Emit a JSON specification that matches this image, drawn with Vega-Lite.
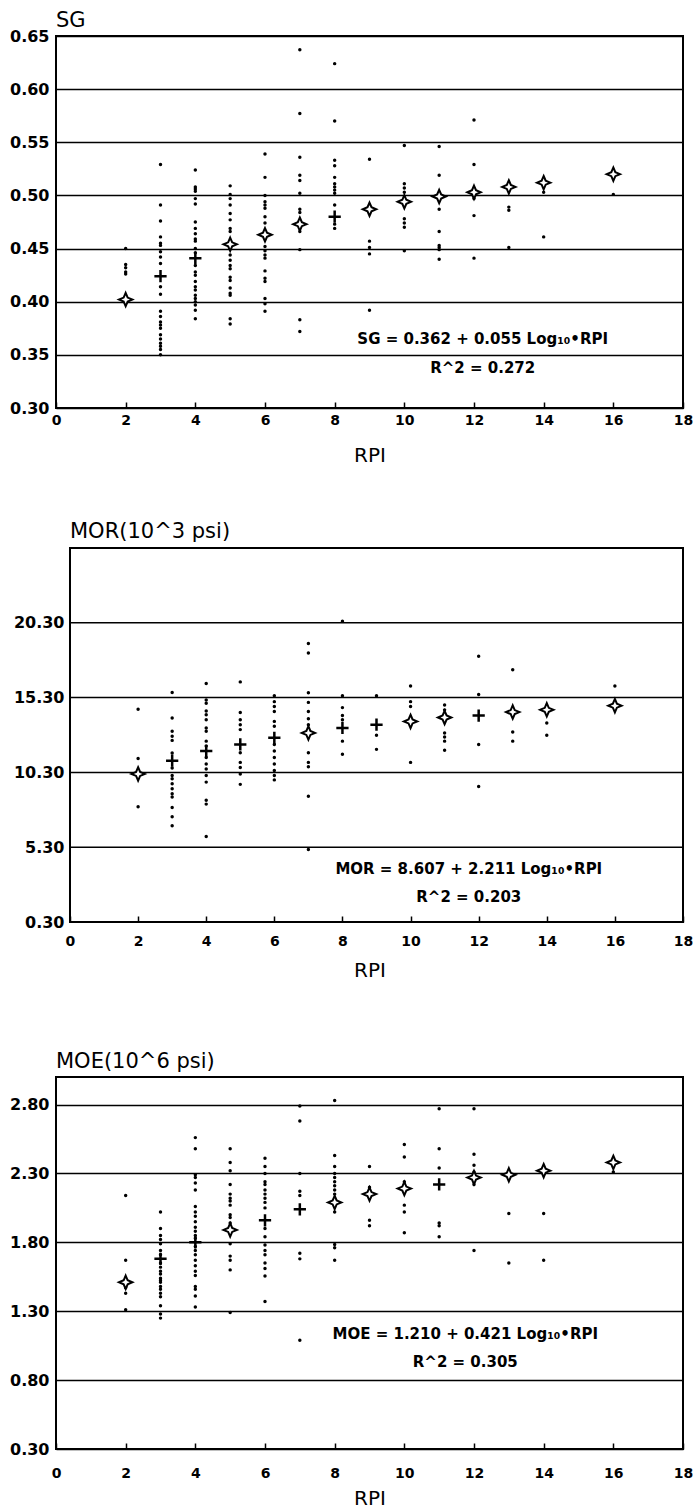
{
  "$schema": "https://vega.github.io/schema/vega-lite/v6.json",
  "background": "white",
  "padding": {"left": 8, "top": 9, "right": 2, "bottom": 0},
  "columns": 1,
  "align": "none",
  "bounds": "full",
  "spacing": 55,
  "resolve": {"scale": {"x": "independent", "y": "independent"}},
  "config": {
    "view": {"stroke": "black", "strokeWidth": 2},
    "font": "DejaVu Sans",
    "axisY": {"grid": true, "gridColor": "black", "gridWidth": 1.5, "gridOpacity": 1, "ticks": false, "domain": false, "labelFont": "DejaVu Sans", "labelFontWeight": "bold", "labelFontSize": 16, "labelColor": "black", "title": null, "format": ".2f", "labelPadding": 7},
    "axisX": {"grid": false, "domain": false, "ticks": true, "tickColor": "black", "tickWidth": 1.5, "tickSize": -6, "labelFont": "DejaVu Sans", "labelFontWeight": "bold", "labelFontSize": 14, "labelColor": "black", "titleFont": "DejaVu Sans", "titleFontWeight": "normal", "titleFontSize": 20, "titleColor": "black", "titlePadding": 18, "format": "d", "labelFlush": false},
    "title": {"anchor": "start", "frame": "group", "offset": 5, "baseline": "alphabetic", "fontSize": 21, "font": "DejaVu Sans", "fontWeight": "normal", "color": "black"}
  },
  "datasets": {
    "sg": [
      {"rpi": 2, "v": 0.450, "kind": "obs"}, {"rpi": 2, "v": 0.435, "kind": "obs"}, {"rpi": 2, "v": 0.432, "kind": "obs"}, {"rpi": 2, "v": 0.428, "kind": "obs"}, {"rpi": 2, "v": 0.426, "kind": "obs"}, {"rpi": 2, "v": 0.399, "kind": "obs"},
      {"rpi": 3, "v": 0.529, "kind": "obs"}, {"rpi": 3, "v": 0.491, "kind": "obs"}, {"rpi": 3, "v": 0.476, "kind": "obs"}, {"rpi": 3, "v": 0.461, "kind": "obs"}, {"rpi": 3, "v": 0.455, "kind": "obs"}, {"rpi": 3, "v": 0.453, "kind": "obs"}, {"rpi": 3, "v": 0.447, "kind": "obs"}, {"rpi": 3, "v": 0.442, "kind": "obs"}, {"rpi": 3, "v": 0.436, "kind": "obs"}, {"rpi": 3, "v": 0.414, "kind": "obs"}, {"rpi": 3, "v": 0.407, "kind": "obs"}, {"rpi": 3, "v": 0.391, "kind": "obs"}, {"rpi": 3, "v": 0.386, "kind": "obs"}, {"rpi": 3, "v": 0.381, "kind": "obs"}, {"rpi": 3, "v": 0.378, "kind": "obs"}, {"rpi": 3, "v": 0.375, "kind": "obs"}, {"rpi": 3, "v": 0.369, "kind": "obs"}, {"rpi": 3, "v": 0.365, "kind": "obs"}, {"rpi": 3, "v": 0.361, "kind": "obs"}, {"rpi": 3, "v": 0.358, "kind": "obs"}, {"rpi": 3, "v": 0.355, "kind": "obs"}, {"rpi": 3, "v": 0.350, "kind": "obs"},
      {"rpi": 4, "v": 0.524, "kind": "obs"}, {"rpi": 4, "v": 0.508, "kind": "obs"}, {"rpi": 4, "v": 0.506, "kind": "obs"}, {"rpi": 4, "v": 0.504, "kind": "obs"}, {"rpi": 4, "v": 0.497, "kind": "obs"}, {"rpi": 4, "v": 0.492, "kind": "obs"}, {"rpi": 4, "v": 0.475, "kind": "obs"}, {"rpi": 4, "v": 0.469, "kind": "obs"}, {"rpi": 4, "v": 0.464, "kind": "obs"}, {"rpi": 4, "v": 0.459, "kind": "obs"}, {"rpi": 4, "v": 0.457, "kind": "obs"}, {"rpi": 4, "v": 0.450, "kind": "obs"}, {"rpi": 4, "v": 0.446, "kind": "obs"}, {"rpi": 4, "v": 0.434, "kind": "obs"}, {"rpi": 4, "v": 0.428, "kind": "obs"}, {"rpi": 4, "v": 0.425, "kind": "obs"}, {"rpi": 4, "v": 0.419, "kind": "obs"}, {"rpi": 4, "v": 0.414, "kind": "obs"}, {"rpi": 4, "v": 0.411, "kind": "obs"}, {"rpi": 4, "v": 0.406, "kind": "obs"}, {"rpi": 4, "v": 0.403, "kind": "obs"}, {"rpi": 4, "v": 0.400, "kind": "obs"}, {"rpi": 4, "v": 0.397, "kind": "obs"}, {"rpi": 4, "v": 0.392, "kind": "obs"}, {"rpi": 4, "v": 0.384, "kind": "obs"},
      {"rpi": 5, "v": 0.509, "kind": "obs"}, {"rpi": 5, "v": 0.501, "kind": "obs"}, {"rpi": 5, "v": 0.497, "kind": "obs"}, {"rpi": 5, "v": 0.491, "kind": "obs"}, {"rpi": 5, "v": 0.483, "kind": "obs"}, {"rpi": 5, "v": 0.477, "kind": "obs"}, {"rpi": 5, "v": 0.469, "kind": "obs"}, {"rpi": 5, "v": 0.466, "kind": "obs"}, {"rpi": 5, "v": 0.444, "kind": "obs"}, {"rpi": 5, "v": 0.439, "kind": "obs"}, {"rpi": 5, "v": 0.434, "kind": "obs"}, {"rpi": 5, "v": 0.431, "kind": "obs"}, {"rpi": 5, "v": 0.423, "kind": "obs"}, {"rpi": 5, "v": 0.420, "kind": "obs"}, {"rpi": 5, "v": 0.413, "kind": "obs"}, {"rpi": 5, "v": 0.408, "kind": "obs"}, {"rpi": 5, "v": 0.406, "kind": "obs"}, {"rpi": 5, "v": 0.384, "kind": "obs"}, {"rpi": 5, "v": 0.379, "kind": "obs"},
      {"rpi": 6, "v": 0.539, "kind": "obs"}, {"rpi": 6, "v": 0.517, "kind": "obs"}, {"rpi": 6, "v": 0.500, "kind": "obs"}, {"rpi": 6, "v": 0.494, "kind": "obs"}, {"rpi": 6, "v": 0.491, "kind": "obs"}, {"rpi": 6, "v": 0.488, "kind": "obs"}, {"rpi": 6, "v": 0.480, "kind": "obs"}, {"rpi": 6, "v": 0.474, "kind": "obs"}, {"rpi": 6, "v": 0.452, "kind": "obs"}, {"rpi": 6, "v": 0.448, "kind": "obs"}, {"rpi": 6, "v": 0.444, "kind": "obs"}, {"rpi": 6, "v": 0.441, "kind": "obs"}, {"rpi": 6, "v": 0.429, "kind": "obs"}, {"rpi": 6, "v": 0.422, "kind": "obs"}, {"rpi": 6, "v": 0.419, "kind": "obs"}, {"rpi": 6, "v": 0.403, "kind": "obs"}, {"rpi": 6, "v": 0.398, "kind": "obs"}, {"rpi": 6, "v": 0.391, "kind": "obs"},
      {"rpi": 7, "v": 0.637, "kind": "obs"}, {"rpi": 7, "v": 0.577, "kind": "obs"}, {"rpi": 7, "v": 0.536, "kind": "obs"}, {"rpi": 7, "v": 0.519, "kind": "obs"}, {"rpi": 7, "v": 0.514, "kind": "obs"}, {"rpi": 7, "v": 0.502, "kind": "obs"}, {"rpi": 7, "v": 0.487, "kind": "obs"}, {"rpi": 7, "v": 0.484, "kind": "obs"}, {"rpi": 7, "v": 0.466, "kind": "obs"}, {"rpi": 7, "v": 0.449, "kind": "obs"}, {"rpi": 7, "v": 0.383, "kind": "obs"}, {"rpi": 7, "v": 0.372, "kind": "obs"},
      {"rpi": 8, "v": 0.624, "kind": "obs"}, {"rpi": 8, "v": 0.570, "kind": "obs"}, {"rpi": 8, "v": 0.533, "kind": "obs"}, {"rpi": 8, "v": 0.528, "kind": "obs"}, {"rpi": 8, "v": 0.517, "kind": "obs"}, {"rpi": 8, "v": 0.511, "kind": "obs"}, {"rpi": 8, "v": 0.508, "kind": "obs"}, {"rpi": 8, "v": 0.505, "kind": "obs"}, {"rpi": 8, "v": 0.502, "kind": "obs"}, {"rpi": 8, "v": 0.491, "kind": "obs"}, {"rpi": 8, "v": 0.473, "kind": "obs"}, {"rpi": 8, "v": 0.469, "kind": "obs"},
      {"rpi": 9, "v": 0.534, "kind": "obs"}, {"rpi": 9, "v": 0.457, "kind": "obs"}, {"rpi": 9, "v": 0.451, "kind": "obs"}, {"rpi": 9, "v": 0.445, "kind": "obs"}, {"rpi": 9, "v": 0.392, "kind": "obs"},
      {"rpi": 10, "v": 0.547, "kind": "obs"}, {"rpi": 10, "v": 0.511, "kind": "obs"}, {"rpi": 10, "v": 0.507, "kind": "obs"}, {"rpi": 10, "v": 0.503, "kind": "obs"}, {"rpi": 10, "v": 0.478, "kind": "obs"}, {"rpi": 10, "v": 0.474, "kind": "obs"}, {"rpi": 10, "v": 0.470, "kind": "obs"}, {"rpi": 10, "v": 0.448, "kind": "obs"},
      {"rpi": 11, "v": 0.546, "kind": "obs"}, {"rpi": 11, "v": 0.519, "kind": "obs"}, {"rpi": 11, "v": 0.487, "kind": "obs"}, {"rpi": 11, "v": 0.466, "kind": "obs"}, {"rpi": 11, "v": 0.453, "kind": "obs"}, {"rpi": 11, "v": 0.451, "kind": "obs"}, {"rpi": 11, "v": 0.449, "kind": "obs"}, {"rpi": 11, "v": 0.440, "kind": "obs"},
      {"rpi": 12, "v": 0.571, "kind": "obs"}, {"rpi": 12, "v": 0.529, "kind": "obs"}, {"rpi": 12, "v": 0.497, "kind": "obs"}, {"rpi": 12, "v": 0.481, "kind": "obs"}, {"rpi": 12, "v": 0.441, "kind": "obs"},
      {"rpi": 13, "v": 0.489, "kind": "obs"}, {"rpi": 13, "v": 0.486, "kind": "obs"}, {"rpi": 13, "v": 0.451, "kind": "obs"},
      {"rpi": 14, "v": 0.503, "kind": "obs"}, {"rpi": 14, "v": 0.461, "kind": "obs"},
      {"rpi": 16, "v": 0.501, "kind": "obs"},
      {"rpi": 2, "v": 0.402, "kind": "mean", "sym": "star"}, {"rpi": 3, "v": 0.424, "kind": "mean", "sym": "cross"}, {"rpi": 4, "v": 0.441, "kind": "mean", "sym": "cross"}, {"rpi": 5, "v": 0.454, "kind": "mean", "sym": "star"}, {"rpi": 6, "v": 0.463, "kind": "mean", "sym": "star"}, {"rpi": 7, "v": 0.473, "kind": "mean", "sym": "star"}, {"rpi": 8, "v": 0.480, "kind": "mean", "sym": "cross"}, {"rpi": 9, "v": 0.487, "kind": "mean", "sym": "star"}, {"rpi": 10, "v": 0.494, "kind": "mean", "sym": "star"}, {"rpi": 11, "v": 0.499, "kind": "mean", "sym": "star"}, {"rpi": 12, "v": 0.503, "kind": "mean", "sym": "star"}, {"rpi": 13, "v": 0.508, "kind": "mean", "sym": "star"}, {"rpi": 14, "v": 0.512, "kind": "mean", "sym": "star"}, {"rpi": 16, "v": 0.520, "kind": "mean", "sym": "star"}
    ],
    "mor": [
      {"rpi": 2, "v": 14.52, "kind": "obs"}, {"rpi": 2, "v": 11.23, "kind": "obs"}, {"rpi": 2, "v": 8.0, "kind": "obs"},
      {"rpi": 3, "v": 15.64, "kind": "obs"}, {"rpi": 3, "v": 13.93, "kind": "obs"}, {"rpi": 3, "v": 13.05, "kind": "obs"}, {"rpi": 3, "v": 12.72, "kind": "obs"}, {"rpi": 3, "v": 12.44, "kind": "obs"}, {"rpi": 3, "v": 11.6, "kind": "obs"}, {"rpi": 3, "v": 10.6, "kind": "obs"}, {"rpi": 3, "v": 10.09, "kind": "obs"}, {"rpi": 3, "v": 9.87, "kind": "obs"}, {"rpi": 3, "v": 9.54, "kind": "obs"}, {"rpi": 3, "v": 9.21, "kind": "obs"}, {"rpi": 3, "v": 8.88, "kind": "obs"}, {"rpi": 3, "v": 8.66, "kind": "obs"}, {"rpi": 3, "v": 7.96, "kind": "obs"}, {"rpi": 3, "v": 7.34, "kind": "obs"}, {"rpi": 3, "v": 6.73, "kind": "obs"},
      {"rpi": 4, "v": 16.24, "kind": "obs"}, {"rpi": 4, "v": 15.14, "kind": "obs"}, {"rpi": 4, "v": 14.92, "kind": "obs"}, {"rpi": 4, "v": 14.41, "kind": "obs"}, {"rpi": 4, "v": 14.15, "kind": "obs"}, {"rpi": 4, "v": 13.82, "kind": "obs"}, {"rpi": 4, "v": 13.27, "kind": "obs"}, {"rpi": 4, "v": 13.05, "kind": "obs"}, {"rpi": 4, "v": 12.39, "kind": "obs"}, {"rpi": 4, "v": 12.06, "kind": "obs"}, {"rpi": 4, "v": 11.30, "kind": "obs"}, {"rpi": 4, "v": 10.86, "kind": "obs"}, {"rpi": 4, "v": 10.53, "kind": "obs"}, {"rpi": 4, "v": 10.09, "kind": "obs"}, {"rpi": 4, "v": 9.65, "kind": "obs"}, {"rpi": 4, "v": 8.44, "kind": "obs"}, {"rpi": 4, "v": 8.18, "kind": "obs"}, {"rpi": 4, "v": 6.02, "kind": "obs"},
      {"rpi": 5, "v": 16.35, "kind": "obs"}, {"rpi": 5, "v": 14.30, "kind": "obs"}, {"rpi": 5, "v": 13.82, "kind": "obs"}, {"rpi": 5, "v": 13.49, "kind": "obs"}, {"rpi": 5, "v": 13.16, "kind": "obs"}, {"rpi": 5, "v": 11.62, "kind": "obs"}, {"rpi": 5, "v": 10.97, "kind": "obs"}, {"rpi": 5, "v": 10.63, "kind": "obs"}, {"rpi": 5, "v": 10.20, "kind": "obs"}, {"rpi": 5, "v": 9.50, "kind": "obs"},
      {"rpi": 6, "v": 15.42, "kind": "obs"}, {"rpi": 6, "v": 15.03, "kind": "obs"}, {"rpi": 6, "v": 14.70, "kind": "obs"}, {"rpi": 6, "v": 14.37, "kind": "obs"}, {"rpi": 6, "v": 13.71, "kind": "obs"}, {"rpi": 6, "v": 13.38, "kind": "obs"}, {"rpi": 6, "v": 12.17, "kind": "obs"}, {"rpi": 6, "v": 11.73, "kind": "obs"}, {"rpi": 6, "v": 11.30, "kind": "obs"}, {"rpi": 6, "v": 10.86, "kind": "obs"}, {"rpi": 6, "v": 10.42, "kind": "obs"}, {"rpi": 6, "v": 10.09, "kind": "obs"}, {"rpi": 6, "v": 9.80, "kind": "obs"},
      {"rpi": 7, "v": 18.92, "kind": "obs"}, {"rpi": 7, "v": 18.28, "kind": "obs"}, {"rpi": 7, "v": 15.62, "kind": "obs"}, {"rpi": 7, "v": 14.98, "kind": "obs"}, {"rpi": 7, "v": 14.37, "kind": "obs"}, {"rpi": 7, "v": 13.89, "kind": "obs"}, {"rpi": 7, "v": 13.49, "kind": "obs"}, {"rpi": 7, "v": 11.62, "kind": "obs"}, {"rpi": 7, "v": 10.97, "kind": "obs"}, {"rpi": 7, "v": 10.68, "kind": "obs"}, {"rpi": 7, "v": 8.70, "kind": "obs"}, {"rpi": 7, "v": 5.14, "kind": "obs"},
      {"rpi": 8, "v": 20.40, "kind": "obs"}, {"rpi": 8, "v": 15.42, "kind": "obs"}, {"rpi": 8, "v": 14.63, "kind": "obs"}, {"rpi": 8, "v": 14.10, "kind": "obs"}, {"rpi": 8, "v": 13.82, "kind": "obs"}, {"rpi": 8, "v": 12.39, "kind": "obs"}, {"rpi": 8, "v": 11.51, "kind": "obs"},
      {"rpi": 9, "v": 15.42, "kind": "obs"}, {"rpi": 9, "v": 12.79, "kind": "obs"}, {"rpi": 9, "v": 11.84, "kind": "obs"},
      {"rpi": 10, "v": 16.08, "kind": "obs"}, {"rpi": 10, "v": 15.03, "kind": "obs"}, {"rpi": 10, "v": 14.70, "kind": "obs"}, {"rpi": 10, "v": 10.97, "kind": "obs"},
      {"rpi": 11, "v": 14.81, "kind": "obs"}, {"rpi": 11, "v": 14.48, "kind": "obs"}, {"rpi": 11, "v": 12.94, "kind": "obs"}, {"rpi": 11, "v": 12.66, "kind": "obs"}, {"rpi": 11, "v": 12.39, "kind": "obs"}, {"rpi": 11, "v": 11.78, "kind": "obs"},
      {"rpi": 12, "v": 18.06, "kind": "obs"}, {"rpi": 12, "v": 15.51, "kind": "obs"}, {"rpi": 12, "v": 12.17, "kind": "obs"}, {"rpi": 12, "v": 9.36, "kind": "obs"},
      {"rpi": 13, "v": 17.16, "kind": "obs"}, {"rpi": 13, "v": 13.00, "kind": "obs"}, {"rpi": 13, "v": 12.39, "kind": "obs"},
      {"rpi": 14, "v": 13.60, "kind": "obs"}, {"rpi": 14, "v": 12.79, "kind": "obs"},
      {"rpi": 16, "v": 16.08, "kind": "obs"},
      {"rpi": 2, "v": 10.20, "kind": "mean", "sym": "star"}, {"rpi": 3, "v": 11.08, "kind": "mean", "sym": "cross"}, {"rpi": 4, "v": 11.73, "kind": "mean", "sym": "cross"}, {"rpi": 5, "v": 12.17, "kind": "mean", "sym": "cross"}, {"rpi": 6, "v": 12.61, "kind": "mean", "sym": "cross"}, {"rpi": 7, "v": 12.94, "kind": "mean", "sym": "star"}, {"rpi": 8, "v": 13.27, "kind": "mean", "sym": "cross"}, {"rpi": 9, "v": 13.49, "kind": "mean", "sym": "cross"}, {"rpi": 10, "v": 13.71, "kind": "mean", "sym": "star"}, {"rpi": 11, "v": 13.97, "kind": "mean", "sym": "star"}, {"rpi": 12, "v": 14.10, "kind": "mean", "sym": "cross"}, {"rpi": 13, "v": 14.33, "kind": "mean", "sym": "star"}, {"rpi": 14, "v": 14.48, "kind": "mean", "sym": "star"}, {"rpi": 16, "v": 14.76, "kind": "mean", "sym": "star"}
    ],
    "moe": [
      {"rpi": 2, "v": 2.14, "kind": "obs"}, {"rpi": 2, "v": 1.67, "kind": "obs"}, {"rpi": 2, "v": 1.47, "kind": "obs"}, {"rpi": 2, "v": 1.43, "kind": "obs"}, {"rpi": 2, "v": 1.31, "kind": "obs"},
      {"rpi": 3, "v": 2.02, "kind": "obs"}, {"rpi": 3, "v": 1.90, "kind": "obs"}, {"rpi": 3, "v": 1.85, "kind": "obs"}, {"rpi": 3, "v": 1.82, "kind": "obs"}, {"rpi": 3, "v": 1.79, "kind": "obs"}, {"rpi": 3, "v": 1.74, "kind": "obs"}, {"rpi": 3, "v": 1.71, "kind": "obs"}, {"rpi": 3, "v": 1.65, "kind": "obs"}, {"rpi": 3, "v": 1.62, "kind": "obs"}, {"rpi": 3, "v": 1.59, "kind": "obs"}, {"rpi": 3, "v": 1.57, "kind": "obs"}, {"rpi": 3, "v": 1.54, "kind": "obs"}, {"rpi": 3, "v": 1.525, "kind": "obs"}, {"rpi": 3, "v": 1.51, "kind": "obs"}, {"rpi": 3, "v": 1.48, "kind": "obs"}, {"rpi": 3, "v": 1.46, "kind": "obs"}, {"rpi": 3, "v": 1.43, "kind": "obs"}, {"rpi": 3, "v": 1.405, "kind": "obs"}, {"rpi": 3, "v": 1.34, "kind": "obs"}, {"rpi": 3, "v": 1.28, "kind": "obs"}, {"rpi": 3, "v": 1.25, "kind": "obs"},
      {"rpi": 4, "v": 2.56, "kind": "obs"}, {"rpi": 4, "v": 2.48, "kind": "obs"}, {"rpi": 4, "v": 2.29, "kind": "obs"}, {"rpi": 4, "v": 2.27, "kind": "obs"}, {"rpi": 4, "v": 2.23, "kind": "obs"}, {"rpi": 4, "v": 2.18, "kind": "obs"}, {"rpi": 4, "v": 2.06, "kind": "obs"}, {"rpi": 4, "v": 2.02, "kind": "obs"}, {"rpi": 4, "v": 1.99, "kind": "obs"}, {"rpi": 4, "v": 1.95, "kind": "obs"}, {"rpi": 4, "v": 1.91, "kind": "obs"}, {"rpi": 4, "v": 1.88, "kind": "obs"}, {"rpi": 4, "v": 1.85, "kind": "obs"}, {"rpi": 4, "v": 1.83, "kind": "obs"}, {"rpi": 4, "v": 1.77, "kind": "obs"}, {"rpi": 4, "v": 1.74, "kind": "obs"}, {"rpi": 4, "v": 1.71, "kind": "obs"}, {"rpi": 4, "v": 1.67, "kind": "obs"}, {"rpi": 4, "v": 1.63, "kind": "obs"}, {"rpi": 4, "v": 1.59, "kind": "obs"}, {"rpi": 4, "v": 1.56, "kind": "obs"}, {"rpi": 4, "v": 1.48, "kind": "obs"}, {"rpi": 4, "v": 1.46, "kind": "obs"}, {"rpi": 4, "v": 1.41, "kind": "obs"}, {"rpi": 4, "v": 1.33, "kind": "obs"},
      {"rpi": 5, "v": 2.48, "kind": "obs"}, {"rpi": 5, "v": 2.38, "kind": "obs"}, {"rpi": 5, "v": 2.32, "kind": "obs"}, {"rpi": 5, "v": 2.22, "kind": "obs"}, {"rpi": 5, "v": 2.15, "kind": "obs"}, {"rpi": 5, "v": 2.12, "kind": "obs"}, {"rpi": 5, "v": 2.10, "kind": "obs"}, {"rpi": 5, "v": 2.07, "kind": "obs"}, {"rpi": 5, "v": 2.00, "kind": "obs"}, {"rpi": 5, "v": 1.98, "kind": "obs"}, {"rpi": 5, "v": 1.94, "kind": "obs"}, {"rpi": 5, "v": 1.79, "kind": "obs"}, {"rpi": 5, "v": 1.70, "kind": "obs"}, {"rpi": 5, "v": 1.67, "kind": "obs"}, {"rpi": 5, "v": 1.60, "kind": "obs"}, {"rpi": 5, "v": 1.29, "kind": "obs"},
      {"rpi": 6, "v": 2.41, "kind": "obs"}, {"rpi": 6, "v": 2.35, "kind": "obs"}, {"rpi": 6, "v": 2.30, "kind": "obs"}, {"rpi": 6, "v": 2.24, "kind": "obs"}, {"rpi": 6, "v": 2.22, "kind": "obs"}, {"rpi": 6, "v": 2.18, "kind": "obs"}, {"rpi": 6, "v": 2.15, "kind": "obs"}, {"rpi": 6, "v": 2.12, "kind": "obs"}, {"rpi": 6, "v": 2.09, "kind": "obs"}, {"rpi": 6, "v": 2.05, "kind": "obs"}, {"rpi": 6, "v": 1.90, "kind": "obs"}, {"rpi": 6, "v": 1.84, "kind": "obs"}, {"rpi": 6, "v": 1.78, "kind": "obs"}, {"rpi": 6, "v": 1.74, "kind": "obs"}, {"rpi": 6, "v": 1.71, "kind": "obs"}, {"rpi": 6, "v": 1.65, "kind": "obs"}, {"rpi": 6, "v": 1.61, "kind": "obs"}, {"rpi": 6, "v": 1.555, "kind": "obs"}, {"rpi": 6, "v": 1.37, "kind": "obs"},
      {"rpi": 7, "v": 2.79, "kind": "obs"}, {"rpi": 7, "v": 2.68, "kind": "obs"}, {"rpi": 7, "v": 2.30, "kind": "obs"}, {"rpi": 7, "v": 2.17, "kind": "obs"}, {"rpi": 7, "v": 2.14, "kind": "obs"}, {"rpi": 7, "v": 1.72, "kind": "obs"}, {"rpi": 7, "v": 1.68, "kind": "obs"}, {"rpi": 7, "v": 1.09, "kind": "obs"},
      {"rpi": 8, "v": 2.83, "kind": "obs"}, {"rpi": 8, "v": 2.43, "kind": "obs"}, {"rpi": 8, "v": 2.35, "kind": "obs"}, {"rpi": 8, "v": 2.30, "kind": "obs"}, {"rpi": 8, "v": 2.27, "kind": "obs"}, {"rpi": 8, "v": 2.24, "kind": "obs"}, {"rpi": 8, "v": 2.21, "kind": "obs"}, {"rpi": 8, "v": 2.18, "kind": "obs"}, {"rpi": 8, "v": 2.15, "kind": "obs"}, {"rpi": 8, "v": 2.02, "kind": "obs"}, {"rpi": 8, "v": 1.785, "kind": "obs"}, {"rpi": 8, "v": 1.76, "kind": "obs"}, {"rpi": 8, "v": 1.67, "kind": "obs"},
      {"rpi": 9, "v": 2.35, "kind": "obs"}, {"rpi": 9, "v": 2.20, "kind": "obs"}, {"rpi": 9, "v": 1.96, "kind": "obs"}, {"rpi": 9, "v": 1.92, "kind": "obs"},
      {"rpi": 10, "v": 2.51, "kind": "obs"}, {"rpi": 10, "v": 2.42, "kind": "obs"}, {"rpi": 10, "v": 2.24, "kind": "obs"}, {"rpi": 10, "v": 2.07, "kind": "obs"}, {"rpi": 10, "v": 2.02, "kind": "obs"}, {"rpi": 10, "v": 1.87, "kind": "obs"},
      {"rpi": 11, "v": 2.77, "kind": "obs"}, {"rpi": 11, "v": 2.48, "kind": "obs"}, {"rpi": 11, "v": 2.34, "kind": "obs"}, {"rpi": 11, "v": 1.94, "kind": "obs"}, {"rpi": 11, "v": 1.92, "kind": "obs"}, {"rpi": 11, "v": 1.84, "kind": "obs"},
      {"rpi": 12, "v": 2.77, "kind": "obs"}, {"rpi": 12, "v": 2.44, "kind": "obs"}, {"rpi": 12, "v": 2.36, "kind": "obs"}, {"rpi": 12, "v": 2.31, "kind": "obs"}, {"rpi": 12, "v": 2.22, "kind": "obs"}, {"rpi": 12, "v": 1.74, "kind": "obs"},
      {"rpi": 13, "v": 2.01, "kind": "obs"}, {"rpi": 13, "v": 1.65, "kind": "obs"},
      {"rpi": 14, "v": 2.01, "kind": "obs"}, {"rpi": 14, "v": 1.67, "kind": "obs"},
      {"rpi": 16, "v": 2.31, "kind": "obs"},
      {"rpi": 2, "v": 1.51, "kind": "mean", "sym": "star"}, {"rpi": 3, "v": 1.68, "kind": "mean", "sym": "cross"}, {"rpi": 4, "v": 1.80, "kind": "mean", "sym": "cross"}, {"rpi": 5, "v": 1.89, "kind": "mean", "sym": "star"}, {"rpi": 6, "v": 1.96, "kind": "mean", "sym": "cross"}, {"rpi": 7, "v": 2.04, "kind": "mean", "sym": "cross"}, {"rpi": 8, "v": 2.09, "kind": "mean", "sym": "star"}, {"rpi": 9, "v": 2.15, "kind": "mean", "sym": "star"}, {"rpi": 10, "v": 2.19, "kind": "mean", "sym": "star"}, {"rpi": 11, "v": 2.22, "kind": "mean", "sym": "cross"}, {"rpi": 12, "v": 2.27, "kind": "mean", "sym": "star"}, {"rpi": 13, "v": 2.29, "kind": "mean", "sym": "star"}, {"rpi": 14, "v": 2.32, "kind": "mean", "sym": "star"}, {"rpi": 16, "v": 2.38, "kind": "mean", "sym": "star"}
    ]
  },
  "concat": [
    {
      "width": 627, "height": 372,
      "title": {"text": "SG", "offset": -3},
      "layer": [
        {"data": {"name": "sg"}, "transform": [{"filter": "datum.kind === 'obs'"}], "mark": {"type": "point", "shape": "circle", "filled": true, "color": "black", "size": 12, "opacity": 1},
         "encoding": {
           "x": {"field": "rpi", "type": "quantitative", "scale": {"domain": [0, 18], "nice": false, "zero": false}, "axis": {"title": "RPI", "values": [0, 2, 4, 6, 8, 10, 12, 14, 16, 18], "labelPadding": 11}},
           "y": {"field": "v", "type": "quantitative", "scale": {"domain": [0.30, 0.65], "nice": false, "zero": false}, "axis": {"title": null, "values": [0.30, 0.35, 0.40, 0.45, 0.50, 0.55, 0.60, 0.65], "labelPadding": 7}}
         }},
        {"data": {"name": "sg"}, "transform": [{"filter": "datum.sym === 'star'"}], "mark": {"type": "point", "shape": "M0,-1L0.3,-0.3L1,0L0.3,0.3L0,1L-0.3,0.3L-1,0L-0.3,-0.3Z", "filled": true, "fill": "white", "stroke": "black", "strokeWidth": 2, "size": 180, "opacity": 1, "fillOpacity": 1, "strokeOpacity": 1},
         "encoding": {"x": {"field": "rpi", "type": "quantitative"}, "y": {"field": "v", "type": "quantitative"}}},
        {"data": {"name": "sg"}, "transform": [{"filter": "datum.sym === 'cross'"}], "mark": {"type": "point", "shape": "M-1,0L1,0M0,-1L0,1", "filled": false, "stroke": "black", "strokeWidth": 2.5, "size": 150, "opacity": 1},
         "encoding": {"x": {"field": "rpi", "type": "quantitative"}, "y": {"field": "v", "type": "quantitative"}}},
        {"data": {"values": [{"label": "SG = 0.362 + 0.055 Log₁₀•RPI"}]}, "mark": {"type": "text", "font": "DejaVu Sans", "fontWeight": "bold", "fontSize": 15, "fill": "black", "align": "center", "baseline": "middle"}, "encoding": {"text": {"field": "label"}, "x": {"datum": 12.25}, "y": {"datum": 0.365}}},
        {"data": {"values": [{"label": "R^2 = 0.272"}]}, "mark": {"type": "text", "font": "DejaVu Sans", "fontWeight": "bold", "fontSize": 15, "fill": "black", "align": "center", "baseline": "middle"}, "encoding": {"text": {"field": "label"}, "x": {"datum": 12.25}, "y": {"datum": 0.338}}}
      ]
    },
    {
      "width": 627, "height": 374,
      "title": {"text": "MOR(10^3 psi)", "dx": 14},
      "view": {"stroke": null},
      "layer": [
        {"data": {"values": [{"g": 5.3}, {"g": 10.3}, {"g": 15.3}, {"g": 20.3}]}, "mark": {"type": "rule", "color": "black", "strokeWidth": 1.5},
         "encoding": {"y": {"field": "g", "type": "quantitative"}, "x": {"datum": 0}, "x2": {"datum": 18}}},
        {"data": {"values": [{"edge": "box"}]}, "mark": {"type": "rect", "filled": false, "stroke": "black", "strokeWidth": 2},
         "encoding": {"x": {"datum": 0}, "x2": {"datum": 18}, "y": {"datum": 0.3}, "y2": {"datum": 25.3}}},
        {"data": {"name": "mor"}, "transform": [{"filter": "datum.kind === 'obs'"}], "mark": {"type": "point", "shape": "circle", "filled": true, "color": "black", "size": 12, "opacity": 1},
         "encoding": {
           "x": {"field": "rpi", "type": "quantitative", "scale": {"domain": [-0.411, 18], "nice": false, "zero": false}, "axis": {"title": ["RPI", ""], "titleLineHeight": 15, "titlePadding": 12, "values": [0, 2, 4, 6, 8, 10, 12, 14, 16, 18], "labelPadding": 18}},
           "y": {"field": "v", "type": "quantitative", "scale": {"domain": [0.30, 25.30], "nice": false, "zero": false}, "axis": {"title": null, "values": [0.30, 5.30, 10.30, 15.30, 20.30], "labelPadding": 6, "offset": -14, "grid": false}}
         }},
        {"data": {"name": "mor"}, "transform": [{"filter": "datum.sym === 'star'"}], "mark": {"type": "point", "shape": "M0,-1L0.3,-0.3L1,0L0.3,0.3L0,1L-0.3,0.3L-1,0L-0.3,-0.3Z", "filled": true, "fill": "white", "stroke": "black", "strokeWidth": 2, "size": 180, "opacity": 1, "fillOpacity": 1, "strokeOpacity": 1},
         "encoding": {"x": {"field": "rpi", "type": "quantitative"}, "y": {"field": "v", "type": "quantitative"}}},
        {"data": {"name": "mor"}, "transform": [{"filter": "datum.sym === 'cross'"}], "mark": {"type": "point", "shape": "M-1,0L1,0M0,-1L0,1", "filled": false, "stroke": "black", "strokeWidth": 2.5, "size": 150, "opacity": 1},
         "encoding": {"x": {"field": "rpi", "type": "quantitative"}, "y": {"field": "v", "type": "quantitative"}}},
        {"data": {"values": [{"label": "MOR = 8.607 + 2.211 Log₁₀•RPI"}]}, "mark": {"type": "text", "font": "DejaVu Sans", "fontWeight": "bold", "fontSize": 15, "fill": "black", "align": "center", "baseline": "middle"}, "encoding": {"text": {"field": "label"}, "x": {"datum": 11.71}, "y": {"datum": 3.84}}},
        {"data": {"values": [{"label": "R^2 = 0.203"}]}, "mark": {"type": "text", "font": "DejaVu Sans", "fontWeight": "bold", "fontSize": 15, "fill": "black", "align": "center", "baseline": "middle"}, "encoding": {"text": {"field": "label"}, "x": {"datum": 11.71}, "y": {"datum": 1.97}}}
      ]
    },
    {
      "width": 627, "height": 372,
      "title": {"text": "MOE(10^6 psi)"},
      "layer": [
        {"data": {"name": "moe"}, "transform": [{"filter": "datum.kind === 'obs'"}], "mark": {"type": "point", "shape": "circle", "filled": true, "color": "black", "size": 12, "opacity": 1},
         "encoding": {
           "x": {"field": "rpi", "type": "quantitative", "scale": {"domain": [0, 18], "nice": false, "zero": false}, "axis": {"title": "RPI", "titlePadding": 8, "values": [0, 2, 4, 6, 8, 10, 12, 14, 16, 18], "labelPadding": 23}},
           "y": {"field": "v", "type": "quantitative", "scale": {"domain": [0.30, 3.00], "nice": false, "zero": false}, "axis": {"title": null, "values": [0.30, 0.80, 1.30, 1.80, 2.30, 2.80], "labelPadding": 7}}
         }},
        {"data": {"name": "moe"}, "transform": [{"filter": "datum.sym === 'star'"}], "mark": {"type": "point", "shape": "M0,-1L0.3,-0.3L1,0L0.3,0.3L0,1L-0.3,0.3L-1,0L-0.3,-0.3Z", "filled": true, "fill": "white", "stroke": "black", "strokeWidth": 2, "size": 180, "opacity": 1, "fillOpacity": 1, "strokeOpacity": 1},
         "encoding": {"x": {"field": "rpi", "type": "quantitative"}, "y": {"field": "v", "type": "quantitative"}}},
        {"data": {"name": "moe"}, "transform": [{"filter": "datum.sym === 'cross'"}], "mark": {"type": "point", "shape": "M-1,0L1,0M0,-1L0,1", "filled": false, "stroke": "black", "strokeWidth": 2.5, "size": 150, "opacity": 1},
         "encoding": {"x": {"field": "rpi", "type": "quantitative"}, "y": {"field": "v", "type": "quantitative"}}},
        {"data": {"values": [{"label": "MOE = 1.210 + 0.421 Log₁₀•RPI"}]}, "mark": {"type": "text", "font": "DejaVu Sans", "fontWeight": "bold", "fontSize": 15, "fill": "black", "align": "center", "baseline": "middle"}, "encoding": {"text": {"field": "label"}, "x": {"datum": 11.75}, "y": {"datum": 1.136}}},
        {"data": {"values": [{"label": "R^2 = 0.305"}]}, "mark": {"type": "text", "font": "DejaVu Sans", "fontWeight": "bold", "fontSize": 15, "fill": "black", "align": "center", "baseline": "middle"}, "encoding": {"text": {"field": "label"}, "x": {"datum": 11.75}, "y": {"datum": 0.932}}}
      ]
    }
  ]
}
